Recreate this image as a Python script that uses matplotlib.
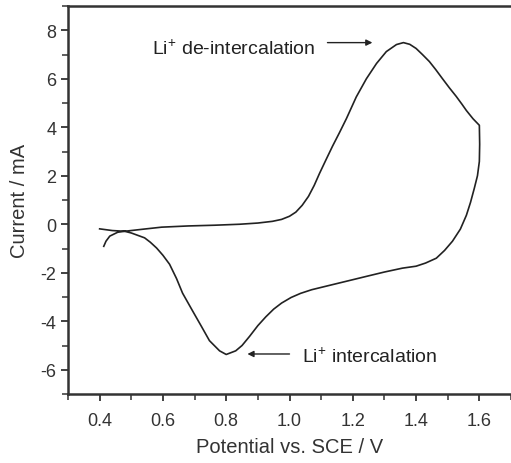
import numpy as np
import matplotlib.pyplot as plt
from matplotlib.ticker import MultipleLocator

plt.rcParams['font.family'] = ['Liberation Sans', 'DejaVu Sans']
plt.rcParams['axes.unicode_minus'] = False
plt.rcParams['mathtext.fontset'] = 'custom'
plt.rcParams['mathtext.rm'] = 'Liberation Sans'

# anodic sweep (0.4 V -> 1.6 V)
v_up = [0.400, 0.440, 0.479, 0.540, 0.596, 0.680, 0.763, 0.842, 0.900, 0.946,
        0.975, 1.000, 1.020, 1.040, 1.060, 1.078, 1.095, 1.115, 1.136, 1.158,
        1.180, 1.211, 1.243, 1.275, 1.306, 1.338, 1.360, 1.380, 1.400, 1.420,
        1.442, 1.462, 1.483, 1.505, 1.527, 1.545, 1.559, 1.580, 1.600]
i_up = [-0.19, -0.26, -0.29, -0.20, -0.12, -0.07, -0.04, 0.00, 0.05, 0.12,
        0.20, 0.33, 0.50, 0.78, 1.15, 1.60, 2.10, 2.65, 3.22, 3.78,
        4.36, 5.25, 6.00, 6.63, 7.12, 7.41, 7.49, 7.42, 7.25, 7.00,
        6.71, 6.38, 6.01, 5.63, 5.27, 4.95, 4.69, 4.35, 4.08]

# cathodic sweep (1.6 V -> 0.4 V)
v_dn = [1.601, 1.600, 1.594, 1.584, 1.572, 1.559, 1.540, 1.515, 1.490, 1.464,
        1.430, 1.400, 1.357, 1.300, 1.246, 1.180, 1.117, 1.070, 1.035, 1.005,
        0.975, 0.950, 0.925, 0.900, 0.874, 0.850, 0.830, 0.800, 0.779, 0.747,
        0.722, 0.694, 0.662, 0.643, 0.621, 0.600, 0.580, 0.560, 0.542, 0.500,
        0.479, 0.457, 0.432, 0.420, 0.413]
i_dn = [3.30, 2.59, 2.00, 1.48, 0.90, 0.37, -0.20, -0.70, -1.08, -1.40,
        -1.60, -1.73, -1.81, -1.97, -2.14, -2.35, -2.55, -2.70, -2.85, -3.02,
        -3.25, -3.50, -3.82, -4.18, -4.62, -5.00, -5.22, -5.37, -5.22, -4.80,
        -4.22, -3.58, -2.84, -2.24, -1.65, -1.28, -0.98, -0.74, -0.56, -0.36,
        -0.29, -0.33, -0.49, -0.70, -0.91]

fig = plt.figure(figsize=(5.11, 4.64), dpi=100)
ax = fig.add_axes([68/511, 1 - 395/464, 1 - 68/511, (395 - 7)/464])

ax.plot(v_up + v_dn, i_up + i_dn, color='#222222', lw=1.2)

ax.set_xlim(0.3, 1.7)
ax.set_ylim(-7, 9)
ax.xaxis.set_minor_locator(MultipleLocator(0.1))
ax.yaxis.set_minor_locator(MultipleLocator(1))
ax.set_xticks([0.4, 0.6, 0.8, 1.0, 1.2, 1.4, 1.6])
ax.set_xticklabels(['0.4', '0.6', '0.8', '1.0', '1.2', '1.4', '1.6'])
ax.set_yticks([-6, -4, -2, 0, 2, 4, 6, 8])
ax.tick_params(which='major', length=5, width=1.3, labelsize=13, color='#333333',
               labelcolor='#333333')
ax.tick_params(axis='x', which='major', pad=8)
ax.tick_params(which='minor', length=4, width=1.1, color='#333333')
for s in ['left', 'bottom', 'top']:
    ax.spines[s].set_linewidth(1.8)
    ax.spines[s].set_color('#333333')
ax.spines['right'].set_visible(False)

ax.set_xlabel('Potential vs. SCE / V', fontsize=14.5, color='#333333', labelpad=6)
ax.set_ylabel('Current / mA', fontsize=14.5, color='#333333', labelpad=8)

ax.text(0.564, 7.29, 'Li$^{+}$ de-intercalation', fontsize=14, color='#222222',
        va='center', ha='left')
ax.annotate('', xy=(1.262, 7.49), xytext=(1.12, 7.49),
            arrowprops=dict(arrowstyle='-|>', color='#222222', lw=1.0,
                            shrinkA=0, shrinkB=0, mutation_scale=9))
ax.text(1.038, -5.43, 'Li$^{+}$ intercalation', fontsize=14, color='#222222',
        va='center', ha='left')
ax.annotate('', xy=(0.867, -5.35), xytext=(1.0, -5.35),
            arrowprops=dict(arrowstyle='-|>', color='#222222', lw=1.0,
                            shrinkA=0, shrinkB=0, mutation_scale=9))

fig.savefig('out.png', dpi=100)
